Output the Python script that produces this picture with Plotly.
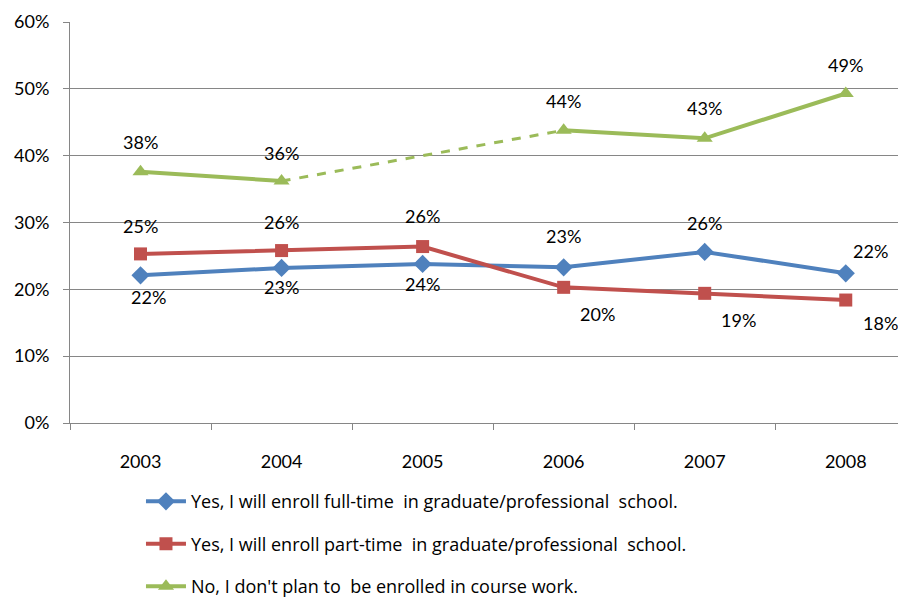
import plotly.graph_objects as go

years = ["2003", "2004", "2005", "2006", "2007", "2008"]
full_time = [22.1, 23.2, 23.8, 23.3, 25.6, 22.4]
part_time = [25.3, 25.8, 26.4, 20.3, 19.4, 18.4]
no_plan = [37.6, 36.2, None, 43.8, 42.6, 49.3]

names = [
    "Yes, I will enroll full-time  in graduate/professional  school.",
    "Yes, I will enroll part-time  in graduate/professional  school.",
    "No, I don't plan to  be enrolled in course work.",
]
colors = ["#4F81BD", "#C0504D", "#9BBB59"]
symbols = ["diamond", "square", "triangle-up"]

# label offsets (x, y in px) per point
full_off = [(8, -22), (0, -19), (0, -20), (0, 31), (0, 29), (25, 22)]
part_off = [(0, 28), (0, 29), (0, 31), (34, -27), (34, -27), (35, -23)]
no_off = [(0, 30), (0, 28), None, (0, 29), (0, 30), (0, 29)]

FONT = "Lato, Carlito, Calibri, sans-serif"
FS = 18

fig = go.Figure()

for i, (vals, nm) in enumerate(zip([full_time, part_time, no_plan], names)):
    fig.add_trace(go.Scatter(
        x=years, y=vals, name=nm, mode="lines+markers", legendgroup=str(i),
        line=dict(color=colors[i], width=4),
        marker=dict(symbol=symbols[i], size=14 if i != 1 else 13, color=colors[i]),
        connectgaps=False))

# dashed connector across the missing 2005 value
fig.add_trace(go.Scatter(
    x=[years[1], years[3]], y=[no_plan[1], no_plan[3]], mode="lines",
    line=dict(color=colors[2], width=3, dash="dash"), showlegend=False, hoverinfo="skip"))

annots = []
for vals, offs in [(full_time, full_off), (part_time, part_off), (no_plan, no_off)]:
    for idx, (v, o) in enumerate(zip(vals, offs)):
        if v is None:
            continue
        annots.append(dict(x=idx, y=v, xref="x", yref="y", text=f"{round(v)}%",
                           showarrow=False, xshift=o[0], yshift=o[1],
                           font=dict(family=FONT, size=FS, color="#000000")))

fig.update_layout(
    width=898, height=589,
    margin=dict(l=62, r=1, t=14, b=174, autoexpand=False),
    paper_bgcolor="white", plot_bgcolor="white",
    font=dict(family=FONT, size=FS, color="#000000"),
    showlegend=True,
    annotations=annots,
    legend=dict(x=0.085, y=-0.150, xanchor="left", yanchor="top",
                orientation="v", tracegroupgap=16, borderwidth=0,
                font=dict(family="Open Sans, sans-serif", size=18, color="#000000"),
                bgcolor="rgba(0,0,0,0)", itemwidth=40),
)
fig.update_xaxes(type="category", categoryorder="array", categoryarray=years,
                 range=[-0.5, 5.42], showgrid=False,
                 showline=True, linecolor="#868686", linewidth=1,
                 ticks="outside", tickson="boundaries", ticklen=6, tickcolor="#868686",
                 ticklabelstandoff=22,
                 tickfont=dict(size=FS), zeroline=False, automargin=False)
fig.update_yaxes(range=[0, 60], dtick=10, ticksuffix="%",
                 showgrid=True, gridcolor="#868686", gridwidth=1,
                 showline=True, linecolor="#868686", linewidth=1,
                 ticks="outside", ticklen=6, tickcolor="#868686",
                 ticklabelstandoff=10,
                 tickfont=dict(size=FS), zeroline=False, automargin=False)

fig.write_html("out.html")
